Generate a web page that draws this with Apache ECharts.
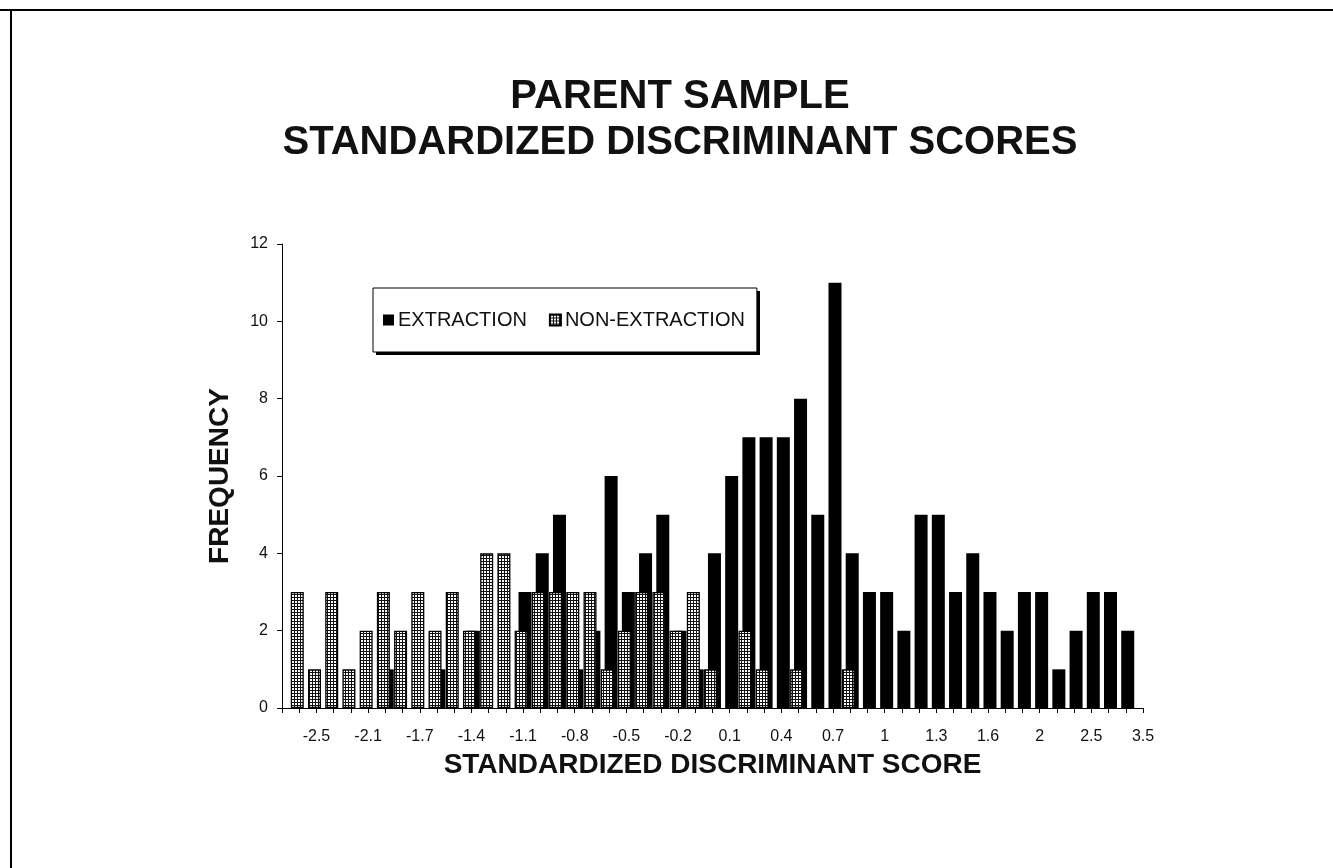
<!DOCTYPE html>
<html>
<head>
<meta charset="utf-8">
<script src="https://cdn.jsdelivr.net/npm/echarts@6/dist/echarts.min.js"></script>
<style>
  html, body { margin: 0; padding: 0; background: #fff; }
  #chart { width: 1333px; height: 868px; }
</style>
</head>
<body>
<div id="chart"></div>
<script>
// Category values along the x axis (only every third one is labelled in the original)
var categories = ['-2.7','-2.6','-2.5','-2.4','-2.2','-2.1','-2.0','-1.8','-1.7','-1.6',
  '-1.5','-1.4','-1.3','-1.2','-1.1','-1.0','-0.9','-0.8','-0.7','-0.6',
  '-0.5','-0.4','-0.3','-0.2','-0.1','0','0.1','0.2','0.3','0.4',
  '0.5','0.6','0.7','0.8','0.9','1','1.1','1.2','1.3','1.4',
  '1.5','1.6','1.7','1.8','2','2.1','2.3','2.5','2.7','2.9','3.5'];
// Labels that are printed under the axis
var tickLabels = ['-2.5','-2.1','-1.7','-1.4','-1.1','-0.8','-0.5','-0.2','0.1','0.4','0.7','1','1.3','1.6','2','2.5','3.5'];

var extraction = [0, 0,0,0,0,0,1,0,0,1,0, 2,0,0,3,4,5,1,2,6,3, 4,5,2,1,4,6,7,7,7,8,
  5,11,4,3,3,2,5,5,3,4, 3,2,3,3,1,2,3,3,2, 0];
var nonExtraction = [0, 3,1,3,1,2,3,2,3,2,3, 2,4,4,2,3,3,3,3,1,2, 3,3,2,3,1,0,2,1,0,1,
  0,0,1,0,0,0,0,0,0,0, 0,0,0,0,0,0,0,0,0, 0];

var yTicks = [0, 2, 4, 6, 8, 10, 12];

function toBars(arr) { return arr.map(function (v) { return v === 0 ? '-' : v; }); }

// hatch pattern (grid) for the non-extraction bars
var pat = document.createElement('canvas');
pat.width = 3; pat.height = 3;
var pc = pat.getContext('2d');
pc.fillStyle = '#ffffff'; pc.fillRect(0, 0, 3, 3);
pc.fillStyle = '#111111'; pc.fillRect(0, 0, 3, 1); pc.fillRect(0, 0, 1, 3);

var FONT = "'Liberation Sans', Arial, sans-serif";
var chart = echarts.init(document.getElementById('chart'), null, { renderer: 'canvas' });

chart.setOption({
  backgroundColor: '#ffffff',
  animation: false,
  title: {
    text: 'PARENT SAMPLE\nSTANDARDIZED DISCRIMINANT SCORES',
    left: 675,
    textAlign: 'center',
    top: 69,
    textStyle: { fontFamily: FONT, fontSize: 40, fontWeight: 'bold', color: '#111', lineHeight: 46 }
  },
  legend: {
    data: ['EXTRACTION', 'NON-EXTRACTION'],
    left: 373,
    top: 288,
    orient: 'horizontal',
    icon: 'rect',
    itemWidth: 11,
    itemHeight: 11,
    itemGap: 22,
    padding: [22, 12, 22, 10],
    backgroundColor: '#ffffff',
    borderColor: '#000',
    borderWidth: 1,
    z: 5,
    textStyle: { fontFamily: FONT, fontSize: 20, color: '#111', padding: [0, 0, 0, -1] }
  },
  grid: { left: 282, right: 190, top: 244, bottom: 160, containLabel: false },
  xAxis: {
    type: 'category',
    data: categories,
    boundaryGap: false,
    name: 'STANDARDIZED DISCRIMINANT SCORE',
    nameLocation: 'middle',
    nameGap: 43,
    nameTextStyle: { fontFamily: FONT, fontSize: 28, fontWeight: 'bold', color: '#111' },
    axisLine: { show: true, lineStyle: { color: '#000', width: 1 } },
    axisTick: { show: true, interval: 0, length: 5, lineStyle: { color: '#000' } },
    axisLabel: {
      interval: function (i, v) { return tickLabels.indexOf(v) !== -1 && i % 3 === 2; },
      margin: 21,
      fontFamily: FONT, fontSize: 16, color: '#111'
    },
    splitLine: { show: false }
  },
  yAxis: {
    type: 'value',
    min: yTicks[0],
    max: yTicks[yTicks.length - 1],
    interval: yTicks[1] - yTicks[0],
    name: 'FREQUENCY',
    nameLocation: 'middle',
    nameRotate: 90,
    nameGap: 48,
    nameTextStyle: { fontFamily: FONT, fontSize: 28, fontWeight: 'bold', color: '#111' },
    axisLine: { show: true, lineStyle: { color: '#000', width: 1 } },
    axisTick: { show: true, length: 5, lineStyle: { color: '#000' } },
    axisLabel: { margin: 14, fontFamily: FONT, fontSize: 16, color: '#111' },
    splitLine: { show: false }
  },
  series: [
    {
      name: 'NON-EXTRACTION',
      type: 'bar',
      data: toBars(nonExtraction),
      barWidth: 13,
      barGap: '-70%',
      z: 3,
      itemStyle: { color: { image: pat, repeat: 'repeat' }, borderColor: '#000', borderWidth: 1.3 }
    },
    {
      name: 'EXTRACTION',
      type: 'bar',
      data: toBars(extraction),
      barWidth: 13,
      barGap: '-70%',
      z: 2,
      itemStyle: { color: '#000', borderColor: '#000', borderWidth: 0 }
    }
  ],
  graphic: [
    { type: 'line', z: 0, shape: { x1: 0, y1: 10, x2: 1333, y2: 10 }, style: { stroke: '#000', lineWidth: 2 } },
    { type: 'line', z: 0, shape: { x1: 11, y1: 9, x2: 11, y2: 868 }, style: { stroke: '#000', lineWidth: 2 } },
    // drop shadow behind the legend box
    { type: 'rect', z: 0, shape: { x: 376, y: 291, width: 384, height: 64 }, style: { fill: '#000' } }
  ]
});
</script>
</body>
</html>
